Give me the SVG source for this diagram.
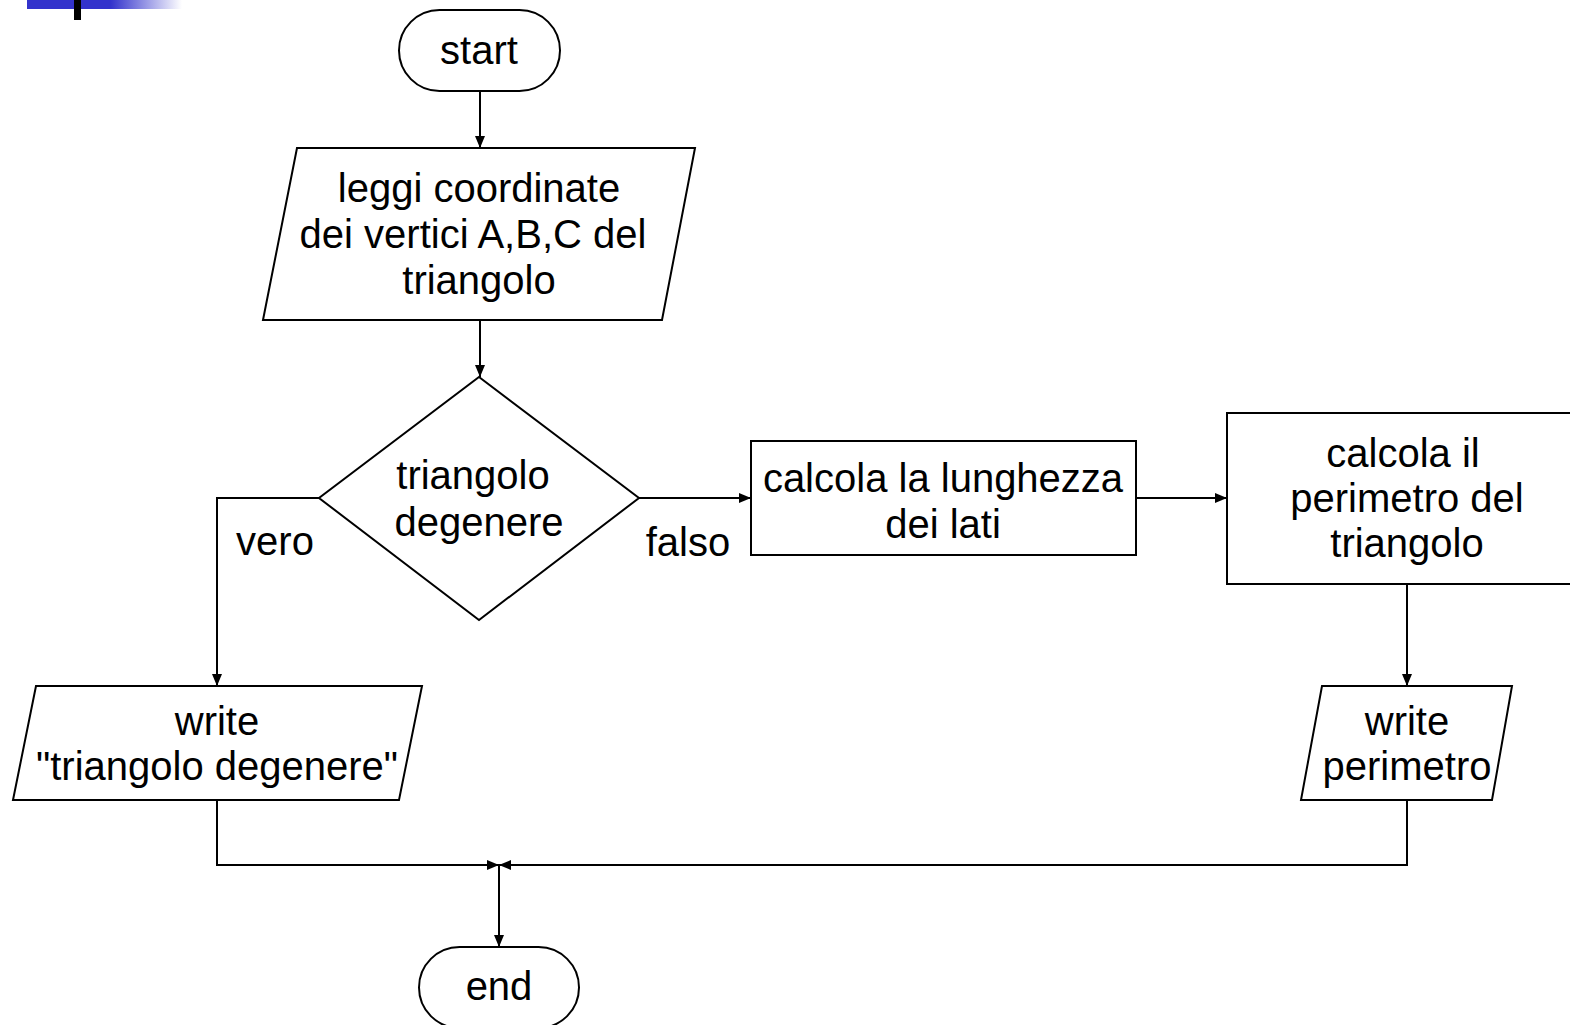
<svg xmlns="http://www.w3.org/2000/svg" width="1570" height="1025" viewBox="0 0 1570 1025">
  <style>
    .shape { fill: #ffffff; stroke: #000000; stroke-width: 2; }
    .edge { fill: none; stroke: #000000; stroke-width: 2; }
    text { font-family: "Liberation Sans", Arial, sans-serif; font-size: 40px; fill: #000000; text-anchor: middle; }
  </style>
  <defs>
    <linearGradient id="barFade" x1="0" y1="0" x2="1" y2="0">
      <stop offset="0" stop-color="#3333cc"/>
      <stop offset="0.54" stop-color="#3333cc"/>
      <stop offset="1" stop-color="#3333cc" stop-opacity="0"/>
    </linearGradient>
    <marker id="arrow" viewBox="0 0 12 10" refX="12" refY="5" markerWidth="6" markerHeight="5" markerUnits="strokeWidth" orient="auto">
      <path d="M0,0 L12,5 L0,10 z" fill="#000000"/>
    </marker>
  </defs>

  <!-- title bar decoration -->
  <rect x="27" y="0" width="155" height="9" fill="url(#barFade)"/>
  <rect x="74" y="0" width="7" height="20" fill="#000000"/>

  <!-- connectors -->
  <g id="connectors">
    <line class="edge" x1="480" y1="91" x2="480" y2="148" marker-end="url(#arrow)"/>
    <line class="edge" x1="480" y1="320" x2="480" y2="377" marker-end="url(#arrow)"/>
    <polyline class="edge" points="319,498 217,498 217,686" marker-end="url(#arrow)"/>
    <line class="edge" x1="639" y1="498" x2="751" y2="498" marker-end="url(#arrow)"/>
    <line class="edge" x1="1136" y1="498" x2="1227" y2="498" marker-end="url(#arrow)"/>
    <line class="edge" x1="1407" y1="584" x2="1407" y2="686" marker-end="url(#arrow)"/>
    <polyline class="edge" points="217,800 217,865 499,865" marker-end="url(#arrow)"/>
    <polyline class="edge" points="1407,800 1407,865 499,865" marker-end="url(#arrow)"/>
    <line class="edge" x1="499" y1="865" x2="499" y2="947" marker-end="url(#arrow)"/>
    <text x="275" y="555">vero</text>
    <text x="688" y="556">falso</text>
  </g>

  <g id="start">
    <rect class="shape" x="399" y="10" width="161" height="81" rx="40.5" ry="40.5"/>
    <text x="479" y="64">start</text>
  </g>

  <g id="read-input">
    <polygon class="shape" points="297,148 695,148 662,320 263,320"/>
    <text x="479" y="202">leggi coordinate</text>
    <text x="473" y="248">dei vertici A,B,C del</text>
    <text x="479" y="294">triangolo</text>
  </g>

  <g id="decision">
    <polygon class="shape" points="479,377 639,498 479,620 319,498"/>
    <text x="473" y="489">triangolo</text>
    <text x="479" y="536">degenere</text>
  </g>

  <g id="side-lengths">
    <rect class="shape" x="751" y="441" width="385" height="114"/>
    <text x="943" y="492">calcola la lunghezza</text>
    <text x="943" y="538">dei lati</text>
  </g>

  <g id="perimeter">
    <rect class="shape" x="1227" y="413" width="360" height="171"/>
    <text x="1403" y="467">calcola il</text>
    <text x="1407" y="512">perimetro del</text>
    <text x="1407" y="557">triangolo</text>
  </g>

  <g id="write-degenerate">
    <polygon class="shape" points="36,686 422,686 399,800 13,800"/>
    <text x="217" y="735">write</text>
    <text x="217" y="780">"triangolo degenere"</text>
  </g>

  <g id="write-perimeter">
    <polygon class="shape" points="1322,686 1512,686 1492,800 1301,800"/>
    <text x="1407" y="735">write</text>
    <text x="1407" y="780">perimetro</text>
  </g>

  <g id="end">
    <rect class="shape" x="419" y="947" width="160" height="81" rx="40.5" ry="40.5"/>
    <text x="499" y="1000">end</text>
  </g>
</svg>
